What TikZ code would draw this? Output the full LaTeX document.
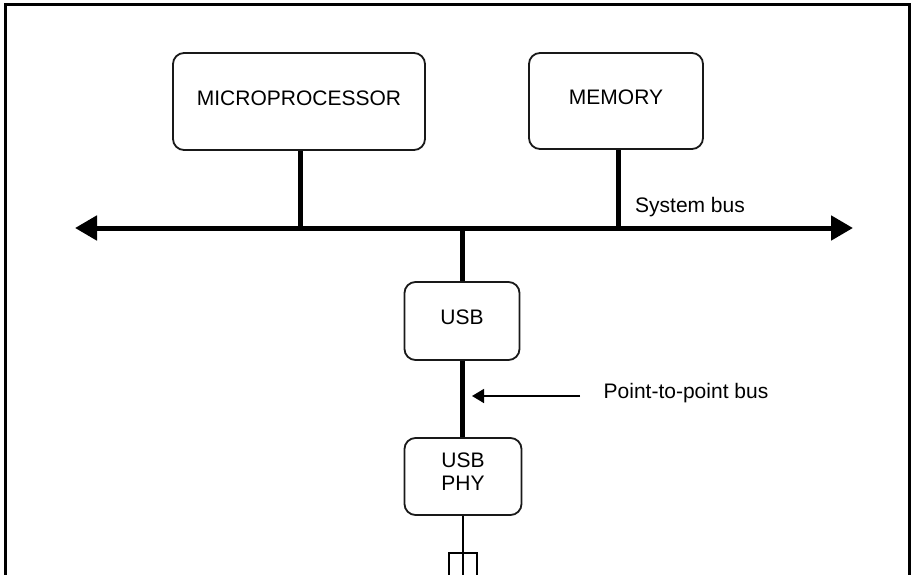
\documentclass[tikz,border=0pt]{standalone}
\usepackage{fontspec}
\setmainfont{Liberation Sans}
\usetikzlibrary{arrows.meta}
\begin{document}
\begin{tikzpicture}[x=1pt,y=-1pt,
  box/.style={draw=black!90, line width=1.8pt, rounded corners=11pt, inner sep=0pt,
              font=\fontsize{21}{23}\selectfont, align=center, text depth=7pt},
  bus/.style={line width=5pt, line cap=butt},
  thin/.style={line width=1.6pt},
  lbl/.style={font=\fontsize{21}{23}\selectfont, inner sep=0pt}]
\useasboundingbox (0,0) rectangle (912,575);

% outer frame (open at the bottom edge)
\draw[line width=3pt] (5,575) -- (5,5) -- (909,5) -- (909,575);

% blocks
\node[box, minimum width=252pt, minimum height=97pt] (micro) at (299,101.5) {MICROPROCESSOR};
\node[box, minimum width=174pt, minimum height=96pt] (mem) at (616,101) {MEMORY};
\node[box, minimum width=115pt, minimum height=78pt] (usb) at (462,321) {USB};
\node[box, minimum width=117pt, minimum height=77pt, text depth=10pt] (phy) at (463,476.5) {USB\\PHY};

% system bus
\coordinate (busL) at (75,228);
\coordinate (busR) at (853,228);
\draw[bus, {Triangle[length=22pt,width=24pt]}-{Triangle[length=22pt,width=24pt]}] (busL) -- (busR);
\node[lbl] (sysbus) at (690,207) {System bus};

% stems onto the bus
\draw[bus] ([xshift=1pt]micro.south) -- ([xshift=1pt]micro.south |- busL);
\draw[bus] ([xshift=2pt]mem.south) -- ([xshift=2pt]mem.south |- busL);
\draw[bus] (usb.north |- busL) -- (usb.north);
\draw[bus] (usb.south) -- (usb.south |- phy.north);

% point-to-point label and pointer
\node[lbl] (p2p) at (686,393) {Point-to-point bus};
\coordinate (ptail) at (580,396);
\coordinate (ptip) at (472,396);
\draw[thin, -{Triangle[length=12pt,width=14pt]}] (ptail) -- (ptip);

% cable and connector below the PHY
\coordinate (cableEnd) at (phy.south |- 0,580);
\draw[thin] (phy.south) -- (cableEnd);
\draw[thin] (449,553) rectangle (477,580);
\end{tikzpicture}
\end{document}
